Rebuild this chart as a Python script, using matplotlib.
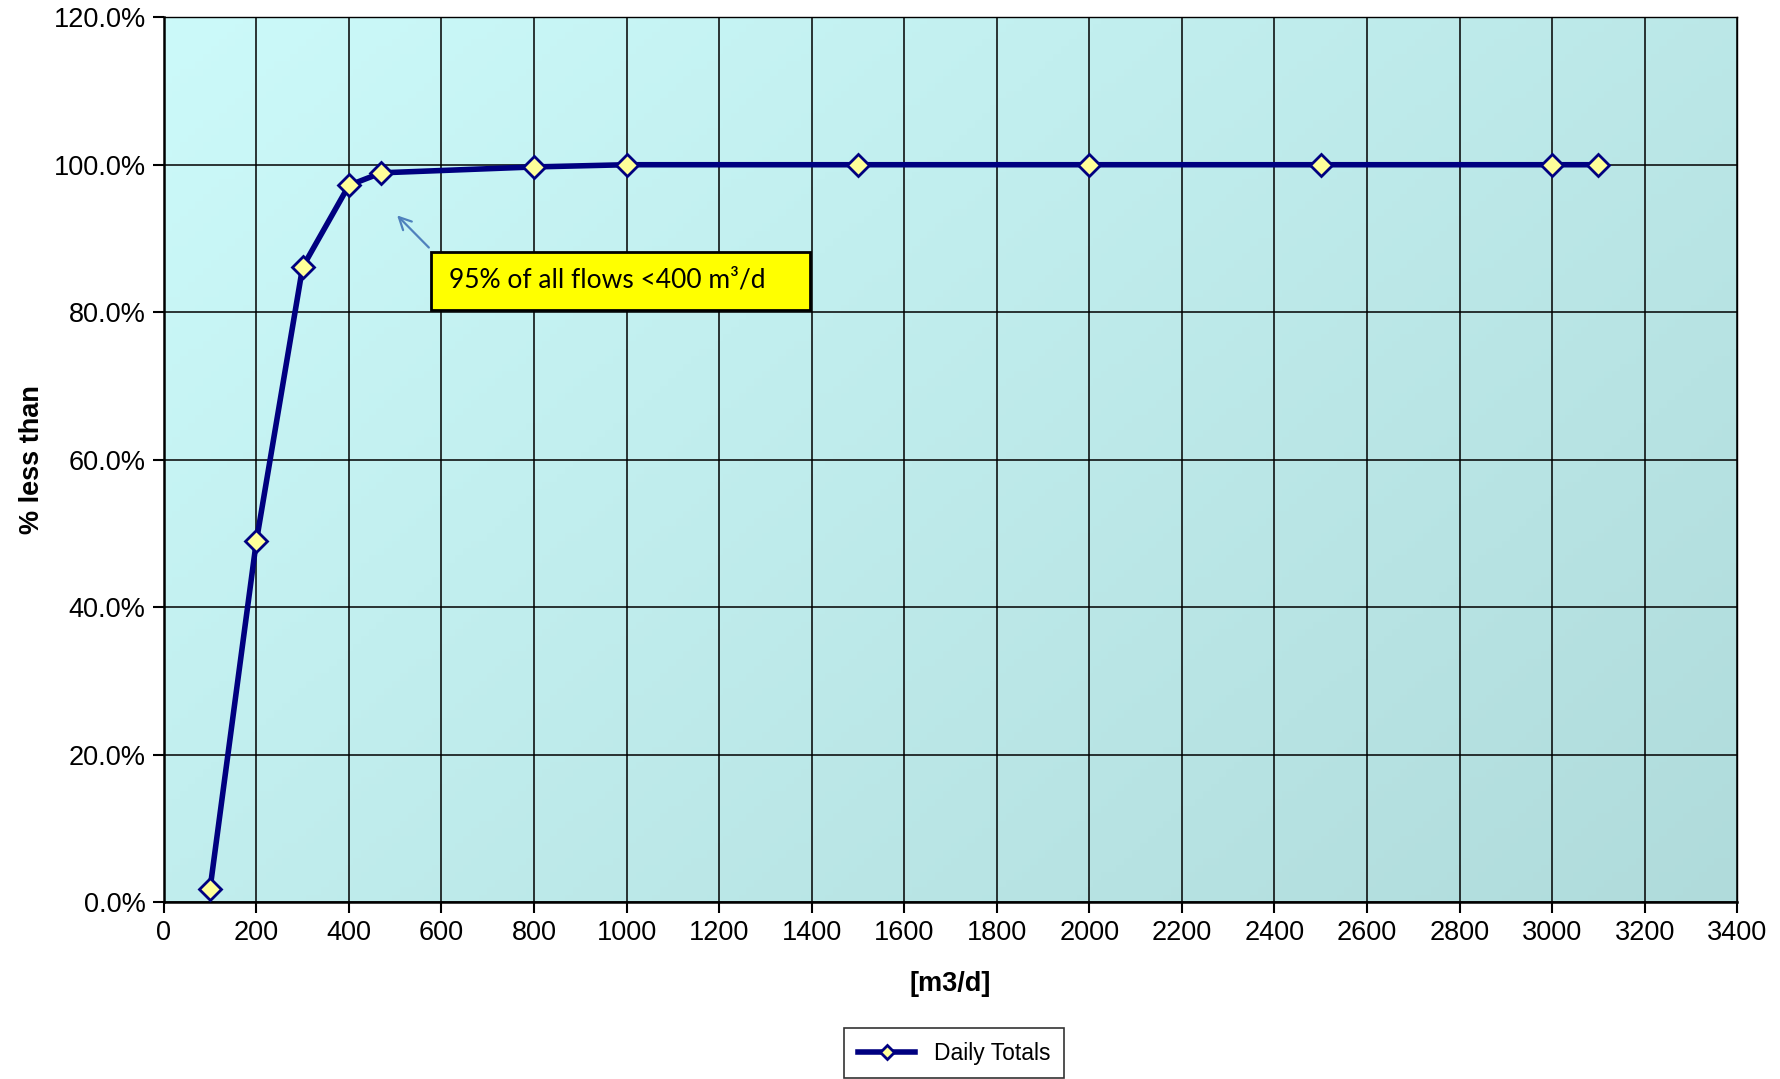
import numpy as np
import matplotlib
matplotlib.use('Agg')
import matplotlib.pyplot as plt
from matplotlib.patches import Rectangle
from matplotlib.ticker import FuncFormatter, MultipleLocator

plt.rcParams['font.family'] = ['Liberation Sans', 'DejaVu Sans']

# ── data ──
flow = [100, 200, 300, 400, 470, 800, 1000, 1500, 2000, 2500, 3000, 3100]
pct_less = [1.8, 48.9, 86.1, 97.2, 98.9, 99.7, 100.0, 100.0, 100.0, 100.0, 100.0, 100.0]
series_name = 'Daily Totals'
note_text = '95% of all flows <400 m\u00b3/d'

fig = plt.figure(figsize=(17.8, 10.79), dpi=100)
ax = fig.add_axes([0.092, 0.164, 0.884, 0.820])

# gradient background (light cyan, top-left -> darker bottom-right)
c1 = np.array([0.80, 0.98, 0.98])
c2 = np.array([0.69, 0.86, 0.86])
gx, gy = np.meshgrid(np.linspace(0, 1, 200), np.linspace(0, 1, 120))
t = (gx * 0.6 + gy * 0.4)[..., None]
grad = c1 * (1 - t) + c2 * t
ax.imshow(grad, extent=[0, 1, 0, 1], transform=ax.transAxes, aspect='auto',
          origin='upper', zorder=0)

ax.set_xlim(0, 3400)
ax.set_ylim(0, 120)
ax.xaxis.set_major_locator(MultipleLocator(200))
ax.yaxis.set_major_locator(MultipleLocator(20))
ax.yaxis.set_major_formatter(FuncFormatter(lambda v, p: f'{v:.1f}%'))
ax.grid(True, color='black', lw=1.1, zorder=1)
ax.set_axisbelow(False)

ax.plot(flow, pct_less, color='#000080', lw=4, marker='D', markersize=11,
        markerfacecolor='#FFFF99', markeredgecolor='#000080', markeredgewidth=2,
        label=series_name, zorder=4)

ax.tick_params(axis='both', direction='out', length=8, width=1.5, labelsize=19.5, pad=5)
for s in ['left', 'bottom']:
    ax.spines[s].set_linewidth(1.8)
for s in ['top', 'right']:
    ax.spines[s].set_linewidth(1.0)

ax.set_xlabel('[m3/d]', fontsize=19.5, fontweight='bold', labelpad=18)
ax.set_ylabel('% less than', fontsize=19.5, fontweight='bold', labelpad=6)

# annotation box + arrow
ax.add_patch(Rectangle((0.170, 0.669), 0.241, 0.066, transform=ax.transAxes,
                       facecolor='#FFFF00', edgecolor='black', lw=2, zorder=5))
ax.text(0.181, 0.703, note_text, transform=ax.transAxes, fontsize=19,
        family=['Lato', 'DejaVu Sans'], va='center', ha='left', zorder=6)
ax.annotate('', xy=(500, 93.4), xytext=(577, 88.5),
            arrowprops=dict(arrowstyle='->', color='#4F81BD', lw=1.6,
                            mutation_scale=22), zorder=6)

leg = fig.legend(loc='lower center', bbox_to_anchor=(0.536, -0.010), fontsize=16.5,
                 frameon=True, fancybox=False, edgecolor='black',
                 handlelength=2.5, borderpad=0.6)
leg.get_frame().set_linewidth(1.2)
for h in leg.legend_handles:
    h.set_markersize(7)

fig.savefig('out.png', dpi=100)
